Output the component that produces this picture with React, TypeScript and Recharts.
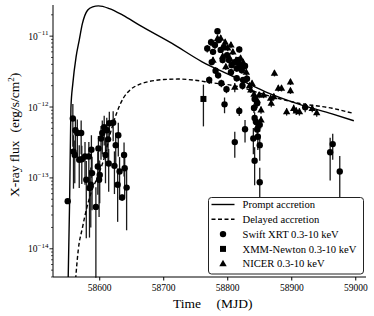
import { ComposedChart, ErrorBar, Legend, Line, Scatter, XAxis, YAxis } from "recharts";

const FONT = '"Liberation Serif", "DejaVu Serif", serif';
const INK = "#000";

// axis settings
const X_DOMAIN = [58527, 59016];
const Y_DOMAIN = [4e-15, 2.75e-11];
const X_TICKS = [58600, 58700, 58800, 58900, 59000];
const DECADES = [-15, -14, -13, -12, -11];
const MANTISSAS = [1, 2, 3, 4, 5, 6, 7, 8, 9];

// Swift XRT 0.3-10 keV (MJD, flux, fractional error)
const swiftMjd = [
  58550, 58558, 58559, 58562, 58561, 58565, 58568, 58571, 58572, 58577, 58579, 58583, 58584,
  58586, 58587, 58588, 58594, 58597, 58598, 58599, 58600, 58602, 58604, 58607, 58609, 58611,
  58613, 58614, 58615, 58621, 58623, 58625, 58629, 58628, 58631, 58635, 58638, 58639, 58642,
  58768, 58774, 58780, 58784, 58786, 58789, 58794, 58799, 58802, 58806, 58811, 58814, 58818,
  58819, 58822, 58827, 58771, 58781, 58790, 58798, 58823, 58830, 58795, 58818, 58827, 58811,
  58840, 58847, 58850, 58842, 58850, 58842, 58846, 58841, 58842, 58844, 58850, 58846, 58921,
  58960, 58964, 58975, 58777, 58792, 58805, 58814, 58775, 58785, 58817, 58824,
];
const swiftFlux = [
  4.7e-14, 6.9e-13, 2.35e-13, 4.7e-13, 2.1e-13, 4.3e-13, 1.8e-13, 4.3e-13, 1.83e-13, 2.0e-13,
  9.4e-14, 2.0e-13, 7.2e-14, 8.0e-14, 2.5e-13, 1.17e-13, 3.9e-14, 1.45e-13, 2.6e-13, 9.4e-14,
  1.1e-13, 3.6e-13, 4.3e-13, 5.2e-13, 2.1e-13, 4.7e-13, 3.5e-13, 1.6e-13, 5.9e-13, 6.0e-13,
  1.48e-13, 2.9e-13, 4.0e-13, 8.0e-14, 1.23e-13, 5.3e-14, 2.1e-13, 1.37e-13, 7.3e-14,
  6.7e-12, 8.2e-12, 7.5e-12, 1.17e-11, 8.8e-12, 6.4e-12, 7.0e-12, 5.4e-12, 4.6e-12, 3.9e-12,
  4.3e-12, 3.5e-12, 6.5e-12, 3.9e-12, 3.3e-12, 3.8e-12, 2.4e-12, 3.25e-12, 2.16e-12, 1.78e-12,
  2.0e-12, 2.5e-12, 1.09e-12, 8.8e-13, 4.85e-13, 3.2e-13, 3.6e-13, 3.8e-13, 2.9e-13, 1.75e-13,
  8.7e-14, 1.3e-12, 1.13e-12, 9.7e-13, 7.0e-13, 6.2e-13, 5.6e-13, 4.8e-13, 9.9e-13, 2.3e-13,
  3.0e-13, 1.23e-13, 6.0e-12, 4.6e-12, 3.1e-12, 2.55e-12, 4.3e-12, 2.8e-12, 4.6e-12, 2.4e-12,
];
const swiftErr = [
  0.05, 0.6, 0.7, 0.5, 0.6, 0.55, 0.6, 0.5, 0.55, 0.6, 0.85, 0.6, 0.8, 0.75, 0.6, 0.7, 0.9,
  0.6, 0.5, 0.7, 0.6, 0.5, 0.5, 0.45, 0.6, 0.5, 0.5, 0.6, 0.45, 0.45, 0.6, 0.5, 0.5, 0.7, 0.6,
  0.1, 0.5, 0.6, 0.75,
  0.12, 0.12, 0.12, 0.1, 0.1, 0.1, 0.1, 0.1, 0.1, 0.1, 0.1, 0.1, 0.1, 0.1, 0.1, 0.1, 0.12,
  0.12, 0.12, 0.12, 0.12, 0.12, 0.25, 0.15, 0.35, 0.4, 0.4, 0.35, 0.4, 0.55, 0.6, 0.15, 0.15,
  0.15, 0.2, 0.2, 0.2, 0.25, 0.15, 0.6, 0.4, 0.65, 0.1, 0.1, 0.1, 0.1, 0.1, 0.1, 0.1, 0.1,
];

// XMM-Newton 0.3-10 keV
const xmmMjd = [58762];
const xmmFlux = [1.3e-12];
const xmmErr = [0.59];

// NICER 0.3-10 keV
const nicerMjd = [
  58777, 58784, 58789, 58796, 58792, 58800, 58805, 58803, 58808, 58811, 58813, 58816, 58820,
  58824, 58836, 58841, 58846, 58856, 58867, 58868, 58872, 58873, 58879, 58884, 58898, 58898,
  58892, 58903, 58907, 58912, 58932, 58939, 58852, 58852, 58847, 58797, 58829, 58834, 58838,
  58849,
];
const nicerFlux = [
  4.6e-12, 9.3e-12, 9.4e-12, 8.2e-12, 5.2e-12, 6.8e-12, 7.5e-12, 4.9e-12, 6.0e-12, 1.9e-12,
  4.6e-12, 4.2e-12, 4.9e-12, 4.3e-12, 1.75e-12, 1.52e-12, 1.25e-12, 1.48e-12, 1.33e-12, 1.13e-12,
  1.4e-12, 3.0e-12, 1.84e-12, 1.84e-12, 2.27e-12, 1.7e-12, 8.6e-13, 9.6e-13, 8.8e-13, 8.6e-13,
  9.6e-13, 8.3e-13, 9.1e-13, 6.6e-13, 5.4e-13, 3.7e-12, 3.1e-12, 2.0e-12, 2.16e-12, 1.48e-12,
];
const nicerErr = [
  0.1, 0.1, 0.1, 0.1, 0.1, 0.1, 0.1, 0.1, 0.1, 0.15, 0.1, 0.1, 0.1, 0.1, 0.1, 0.1, 0.1, 0.1,
  0.12, 0.12, 0.1, 0.1, 0.1, 0.1, 0.1, 0.1, 0.12, 0.12, 0.12, 0.12, 0.12, 0.12, 0.12, 0.12,
  0.12, 0.1, 0.1, 0.1, 0.1, 0.1,
];

// model curves
const promptMjd = [
  58550.5, 58553, 58555, 58558, 58563, 58568, 58573, 58581, 58589, 58598, 58615, 58636, 58662,
  58713, 58760, 58807, 58859, 58911, 58963, 58997,
];
const promptFlux = [
  3e-15, 4.9e-14, 9.7e-13, 2.16e-12, 5.06e-12, 8.8e-12, 1.51e-11, 2.32e-11, 2.59e-11, 2.67e-11,
  2.45e-11, 1.98e-11, 1.43e-11, 7.9e-12, 4.35e-12, 2.74e-12, 1.64e-12, 1.1e-12, 8.0e-13, 6.4e-13,
];
const delayedMjd = [
  58561.5, 58566.5, 58573, 58579, 58587, 58596, 58607, 58618, 58627, 58637, 58647, 58661, 58677,
  58700, 58724, 58747, 58775, 58812, 58859, 58911, 58963, 58997,
];
const delayedFlux = [
  3e-15, 9.7e-15, 1.98e-14, 3.54e-14, 6.35e-14, 1.0e-13, 1.91e-13, 4.74e-13, 8.5e-13, 1.34e-12,
  1.73e-12, 2.07e-12, 2.29e-12, 2.44e-12, 2.48e-12, 2.4e-12, 2.2e-12, 1.98e-12, 1.48e-12,
  1.13e-12, 9.6e-13, 8.1e-13,
];

const LEGEND_LABELS = [
  "Prompt accretion",
  "Delayed accretion",
  "Swift XRT 0.3-10 keV",
  "XMM-Newton 0.3-10 keV",
  "NICER 0.3-10 keV",
];

const Y_TICKS = DECADES.flatMap((d) => MANTISSAS.map((m) => m * Math.pow(10, d))).filter(
  (v) => v >= Y_DOMAIN[0] && v <= Y_DOMAIN[1]
);

const points = (mjd: number[], flux: number[], err: number[]) =>
  mjd.map((x, i) => ({ x, y: flux[i], err: [flux[i] * err[i], flux[i] * err[i]] }));
const curve = (mjd: number[], flux: number[]) => mjd.map((x, i) => ({ x, y: flux[i] }));

const swiftData = points(swiftMjd, swiftFlux, swiftErr);
const xmmData = points(xmmMjd, xmmFlux, xmmErr);
const nicerData = points(nicerMjd, nicerFlux, nicerErr);
const promptData = curve(promptMjd, promptFlux);
const delayedData = curve(delayedMjd, delayedFlux);

const Dot = (p: any) => <circle cx={p.cx} cy={p.cy} r={3.2} fill={INK} />;
const Square = (p: any) => <rect x={p.cx - 3} y={p.cy - 3} width={6} height={6} fill={INK} />;
const Tri = (p: any) => (
  <polygon
    points={`${p.cx},${p.cy - 3.9} ${p.cx + 3.7},${p.cy + 2.6} ${p.cx - 3.7},${p.cy + 2.6}`}
    fill={INK}
  />
);

// log axis tick: long mark + 10^n label on decades, short mark otherwise
function LogTick(props: any) {
  const { x, y, payload } = props;
  const lg = Math.log10(payload.value);
  const e = Math.round(lg);
  const major = Math.abs(lg - e) < 1e-6;
  return (
    <g>
      <line x1={x - (major ? 3.5 : 2)} x2={x} y1={y} y2={y} stroke={INK} strokeWidth={major ? 0.9 : 0.7} />
      {major && (
        <text x={x - 4.5} y={y + 3.5} textAnchor="end" fontFamily={FONT} fontSize={9.5} fill={INK}>
          10
          <tspan dy={-4.5} fontSize={7}>
            {"\u2212" + Math.abs(e)}
          </tspan>
        </text>
      )}
    </g>
  );
}

const xTitle = () => (
  <text x={173} y={307.5} fontFamily={FONT} fontSize={13.5} fill={INK}>
    Time<tspan dx={15.5}>(MJD)</tspan>
  </text>
);

const yTitle = () => (
  <text transform="translate(18.5,197) rotate(-90)" fontFamily={FONT} fontSize={13.5} fill={INK}>
    X-ray flux<tspan dx={8}>(erg/s/cm</tspan>
    <tspan dy={-5} fontSize={9}>2</tspan>
    <tspan dy={5}>)</tspan>
  </text>
);

function LegendBox() {
  const rowY = (i: number) => 7.5 + i * 14.8;
  return (
    <svg width={156} height={78} style={{ display: "block" }}>
      <rect x={0.5} y={0.5} width={155} height={76.5} rx={3} fill="#fff" stroke="#222" strokeWidth={1} />
      <line x1={3.5} x2={26.5} y1={rowY(0)} y2={rowY(0)} stroke={INK} strokeWidth={1.4} />
      <line x1={3.5} x2={26.5} y1={rowY(1)} y2={rowY(1)} stroke={INK} strokeWidth={1.4} strokeDasharray="4 2.5" />
      <Dot cx={15} cy={rowY(2)} />
      <Square cx={15} cy={rowY(3)} />
      <Tri cx={15} cy={rowY(4)} />
      {LEGEND_LABELS.map((t, i) => (
        <text key={t} x={34.5} y={rowY(i) + 3.6} fontFamily={FONT} fontSize={10.6} fill={INK}>
          {t}
        </text>
      ))}
    </svg>
  );
}

export default function App() {
  return (
    <div style={{ position: "absolute", left: 0, top: 0, background: "#fff" }}>
      <ComposedChart width={374} height={316} margin={{ top: 5, right: 8, bottom: 0, left: 0 }}>
        <XAxis
          xAxisId="b"
          type="number"
          dataKey="x"
          domain={X_DOMAIN}
          allowDataOverflow
          ticks={X_TICKS}
          interval={0}
          height={39}
          stroke={INK}
          tickSize={3.5}
          tickMargin={4}
          tick={{ fill: INK, fontSize: 9.5, fontFamily: FONT }}
          label={xTitle}
        />
        <XAxis xAxisId="t" orientation="top" type="number" domain={[0, 1]} height={0} tick={false} tickLine={false} stroke={INK} />
        <YAxis
          yAxisId="l"
          type="number"
          scale="log"
          domain={Y_DOMAIN}
          allowDataOverflow
          ticks={Y_TICKS}
          interval={0}
          width={53}
          tickSize={0}
          tickMargin={0}
          tickLine={false}
          tick={LogTick}
          stroke={INK}
          label={yTitle}
        />
        <YAxis yAxisId="r" orientation="right" type="number" domain={[0, 1]} width={0} tick={false} tickLine={false} stroke={INK} />

        <Scatter xAxisId="b" yAxisId="l" data={swiftData} dataKey="y" shape={Dot} isAnimationActive={false}>
          <ErrorBar dataKey="err" direction="y" width={0} stroke="#1a1a1a" strokeWidth={1.3} isAnimationActive={false} />
        </Scatter>
        <Scatter xAxisId="b" yAxisId="l" data={xmmData} dataKey="y" shape={Square} isAnimationActive={false}>
          <ErrorBar dataKey="err" direction="y" width={0} stroke="#1a1a1a" strokeWidth={1.3} isAnimationActive={false} />
        </Scatter>
        <Scatter xAxisId="b" yAxisId="l" data={nicerData} dataKey="y" shape={Tri} isAnimationActive={false}>
          <ErrorBar dataKey="err" direction="y" width={0} stroke="#1a1a1a" strokeWidth={1.3} isAnimationActive={false} />
        </Scatter>
        <Line xAxisId="b" yAxisId="l" data={promptData} dataKey="y" type="monotone" stroke={INK} strokeWidth={1.4} dot={false} activeDot={false} isAnimationActive={false} />
        <Line xAxisId="b" yAxisId="l" data={delayedData} dataKey="y" type="monotone" stroke={INK} strokeWidth={1.4} strokeDasharray="4 2.5" dot={false} activeDot={false} isAnimationActive={false} />

        <Legend
          layout="vertical"
          align="center"
          verticalAlign="middle"
          wrapperStyle={{ left: 208, top: 196.5, width: 156, height: 78 }}
          content={LegendBox}
        />
      </ComposedChart>
    </div>
  );
}
